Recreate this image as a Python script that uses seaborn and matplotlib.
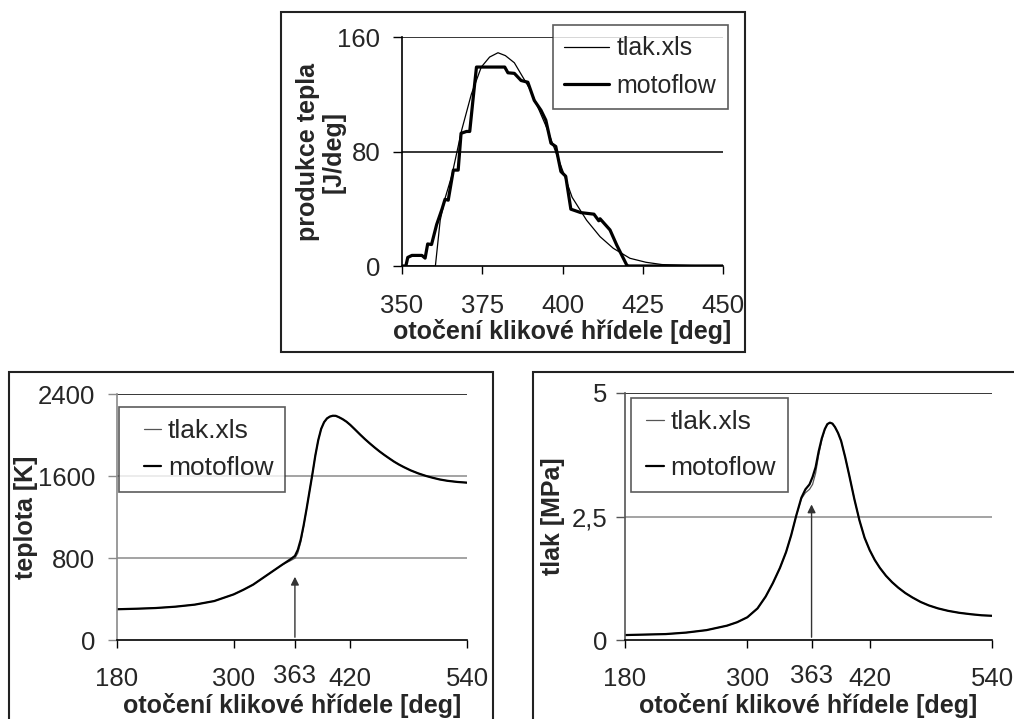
import matplotlib
matplotlib.use("Agg")
import matplotlib.pyplot as plt
import seaborn as sns
from matplotlib.patches import Rectangle
from matplotlib.legend_handler import HandlerLine2D
from matplotlib.lines import Line2D

# ----------------------------------------------------------
# Data
# ----------------------------------------------------------

# heat release [J/deg] vs crank angle
heat_tlak_x = [350, 360.4, 361.9, 363.5, 365.5, 368.6, 371.6, 374.7, 377.3, 379.9, 382.2,
               385, 390, 395, 400, 403, 407.5, 411.7, 415.8, 421, 426, 431, 440, 450]
heat_tlak_y = [0, 0, 32, 48, 63, 95, 120, 139, 146, 149, 147,
               142, 123, 97, 67, 48, 32, 20.5, 12.4, 5.4, 2.6, 1, 0.3, 0]

heat_moto_x = [350, 351.2, 351.8, 353.1, 356.2, 357.2, 358, 359.2, 360.8, 362.5, 363.4, 364.4,
               366, 367.5, 368.4, 370.1, 371.1, 372.2, 373.2, 382, 383, 385, 387.1, 389.2,
               391.2, 393.3, 394.8, 396.4, 397.9, 399.5, 401, 402.6, 405.7, 409.8, 411.3,
               411.7, 414.8, 416.9, 420, 420.5, 450]
heat_moto_y = [0, 0, 6, 7.4, 7.4, 5.5, 15.4, 15, 29, 40, 46.6, 46,
               67, 67, 92.7, 94, 94, 118, 139, 139, 135, 134.6, 129.6, 128.4,
               115.7, 108.8, 101.9, 85.8, 83.5, 66, 62.7, 39.7, 37.3, 36.2, 31.6,
               33, 25.2, 14.6, 0.7, 0, 0]

# temperature [K]
temp_x = [180, 200, 220, 240, 260, 280, 300, 310, 320, 330, 340, 350, 358, 363, 366, 369,
          372, 375, 378, 381, 384, 387, 390, 393, 396, 399, 402, 405, 408, 412, 416, 420,
          425, 430, 435, 440, 445, 450, 455, 460, 465, 470, 475, 482, 490, 498, 505, 512,
          520, 530, 540]
temp_moto = [300, 305, 312, 325, 345, 380, 445, 490, 540, 605, 670, 735, 785, 820, 880, 980,
             1120, 1280, 1450, 1620, 1800, 1950, 2060, 2125, 2162, 2180, 2188, 2187, 2175, 2155, 2130, 2098,
             2052, 2005, 1960, 1918, 1878, 1840, 1805, 1772, 1740, 1712, 1687, 1655, 1625, 1600, 1582, 1566,
             1553, 1542, 1535]
temp_tlak = [300, 305, 312, 325, 345, 380, 445, 490, 540, 605, 670, 735, 772, 798, 850, 955,
             1110, 1280, 1450, 1620, 1800, 1950, 2060, 2125, 2162, 2180, 2188, 2187, 2175, 2155, 2130, 2098,
             2052, 2005, 1960, 1918, 1878, 1840, 1805, 1772, 1740, 1712, 1687, 1655, 1625, 1600, 1582, 1566,
             1553, 1542, 1535]

# pressure [MPa]
press_x = [180, 200, 220, 240, 260, 280, 290, 300, 310, 318, 325, 332, 338, 343, 348, 353, 357, 361,
           364, 367, 370, 373, 376, 378.5, 381, 383.5, 386, 389, 392, 396, 400, 405, 410, 415, 420,
           425, 430, 436, 442, 448, 455, 462, 470, 478, 487, 497, 508, 520, 530, 540]
press_moto = [0.10, 0.11, 0.12, 0.15, 0.20, 0.29, 0.36, 0.46, 0.64, 0.88, 1.15, 1.46, 1.78, 2.12, 2.52, 2.88, 3.05, 3.15,
              3.30, 3.50, 3.82, 4.08, 4.27, 4.37, 4.40, 4.38, 4.31, 4.19, 4.03, 3.70, 3.33, 2.85, 2.42, 2.07, 1.82,
              1.62, 1.46, 1.30, 1.17, 1.06, 0.95, 0.86, 0.77, 0.70, 0.64, 0.59, 0.55, 0.52, 0.50, 0.49]
press_tlak = [0.10, 0.11, 0.12, 0.15, 0.20, 0.29, 0.36, 0.46, 0.64, 0.88, 1.15, 1.46, 1.78, 2.12, 2.52, 2.86, 2.98, 3.05,
              3.15, 3.38, 3.75, 4.05, 4.26, 4.37, 4.40, 4.38, 4.31, 4.19, 4.03, 3.70, 3.33, 2.85, 2.42, 2.07, 1.82,
              1.62, 1.46, 1.30, 1.17, 1.06, 0.95, 0.86, 0.77, 0.70, 0.64, 0.59, 0.55, 0.52, 0.50, 0.49]

bottom_xticks = [180, 300, 363, 420, 540]
temp_yticks = [0, 800, 1600, 2400]
press_yticks = [0, 2.5, 5]
press_yticklabels = ["0", "2,5", "5"]

# ----------------------------------------------------------
# Style
# ----------------------------------------------------------

sns.set_style("white")
plt.rcParams["font.family"] = ["Liberation Sans", "DejaVu Sans"]
plt.rcParams["font.size"] = 18

W, H = 1014, 719
fig = plt.figure(figsize=(W / 100, H / 100), dpi=100)


def px_axes(left, top, right, bottom):
    return fig.add_axes([left / W, 1 - bottom / H, (right - left) / W, (bottom - top) / H])


def frame(left, top, right, bottom):
    fig.add_artist(Rectangle((left / W, 1 - bottom / H), (right - left) / W, (bottom - top) / H,
                             transform=fig.transFigure, fill=False, edgecolor="#222222", lw=1.5))


def style_axes(ax, spine_color, xpad, ypad, size):
    for s in ["top", "right"]:
        ax.spines[s].set_visible(False)
    ax.spines["left"].set_color(spine_color)
    ax.spines["bottom"].set_color("black")
    ax.spines["left"].set_linewidth(1.2)
    ax.spines["bottom"].set_linewidth(1.2)
    ax.tick_params(axis="x", direction="out", length=6, width=1, pad=xpad, labelsize=size,
                   bottom=True, color="black")
    ax.tick_params(axis="y", direction="out", length=6.5, width=1, pad=ypad, labelsize=size,
                   left=True, color=spine_color)


def add_legend(ax, x, y, size, handlelength, xpad, textpad, labelspacing):
    leg = ax.legend(loc="upper left", bbox_to_anchor=(x / W, 1 - y / H), bbox_transform=fig.transFigure,
                    frameon=True, fancybox=False, shadow=False, borderaxespad=0, fontsize=size,
                    handlelength=handlelength, handletextpad=textpad, labelspacing=labelspacing,
                    borderpad=0.45, handler_map={Line2D: HandlerLine2D(xpad=xpad)})
    leg.get_frame().set_edgecolor("#333333")
    leg.get_frame().set_linewidth(1.2)
    leg.set_zorder(10)


# ----------------------------------------------------------
# Top: heat release
# ----------------------------------------------------------

ax1 = px_axes(402, 37, 723, 266)
for v in [80, 160]:
    ax1.axhline(v, color="black", lw=1.1, zorder=0)
sns.lineplot(x=heat_tlak_x, y=heat_tlak_y, ax=ax1, color="black", lw=0.9, label="tlak.xls", sort=False)
sns.lineplot(x=heat_moto_x, y=heat_moto_y, ax=ax1, color="black", lw=2.3, label="motoflow", sort=False)
ax1.set_xlim(350, 450)
ax1.set_ylim(0, 160)
ax1.set_xticks([350, 375, 400, 425, 450])
ax1.set_yticks([0, 80, 160])
style_axes(ax1, "black", 14.5, 9, 18.5)
ax1.set_xlabel("otočení klikové hřídele [deg]", fontweight="bold", fontsize=18)
ax1.set_ylabel("produkce tepla\n[J/deg]", fontweight="bold", fontsize=18, linespacing=1.1)
ax1.xaxis.set_label_coords(0.5, -(331 - 266) / 229)
ax1.xaxis.label.set_va("center")
ax1.yaxis.set_label_coords((321 - 402) / 321, 0.5)
ax1.yaxis.label.set_va("center")
add_legend(ax1, 553, 25, 18, 1.8, 0.0, 0.3, 0.55)
frame(281, 12, 745, 352)

# ----------------------------------------------------------
# Bottom left: temperature
# ----------------------------------------------------------

ax2 = px_axes(117, 394, 467, 640)
for v, c in zip([800, 1600, 2400], ["#8a8a8a", "#8a8a8a", "black"]):
    ax2.axhline(v, color=c, lw=1.1, zorder=0)
sns.lineplot(x=temp_x, y=temp_tlak, ax=ax2, color="#555555", lw=0.9, label="tlak.xls", sort=False)
sns.lineplot(x=temp_x, y=temp_moto, ax=ax2, color="black", lw=1.6, label="motoflow", sort=False)
ax2.annotate("", xy=(363, 644), xytext=(363, 0),
             arrowprops=dict(arrowstyle="-|>", color="#333333", lw=1, mutation_scale=12))
ax2.set_xlim(180, 540)
ax2.set_ylim(0, 2400)
ax2.set_xticks(bottom_xticks)
ax2.set_yticks(temp_yticks)
style_axes(ax2, "#8a8a8a", 13.5, 9, 18.5)
ax2.get_xticklabels()[2].set_y(3 / 246)
ax2.set_xlabel("otočení klikové hřídele [deg]", fontweight="bold", fontsize=18)
ax2.set_ylabel("teplota [K]", fontweight="bold", fontsize=18)
ax2.xaxis.set_label_coords(0.5, -(705 - 640) / 246)
ax2.xaxis.label.set_va("center")
ax2.yaxis.set_label_coords((26 - 117) / 350, 0.5)
ax2.yaxis.label.set_va("center")
add_legend(ax2, 119, 407, 19, 1.15, 0.5, 0.25, 0.5)
frame(9, 372, 493, 730)

# ----------------------------------------------------------
# Bottom right: pressure
# ----------------------------------------------------------

ax3 = px_axes(625, 393, 992, 640)
for v, c in zip([2.5, 5], ["#8a8a8a", "black"]):
    ax3.axhline(v, color=c, lw=1.1, zorder=0)
sns.lineplot(x=press_x, y=press_tlak, ax=ax3, color="#555555", lw=0.9, label="tlak.xls", sort=False)
sns.lineplot(x=press_x, y=press_moto, ax=ax3, color="black", lw=1.6, label="motoflow", sort=False)
ax3.annotate("", xy=(363, 2.8), xytext=(363, 0),
             arrowprops=dict(arrowstyle="-|>", color="#333333", lw=1, mutation_scale=12))
ax3.set_xlim(180, 540)
ax3.set_ylim(0, 5)
ax3.set_xticks(bottom_xticks)
ax3.set_yticks(press_yticks)
ax3.set_yticklabels(press_yticklabels)
style_axes(ax3, "#555555", 13.5, 6, 18.5)
ax3.get_xticklabels()[2].set_y(3 / 247)
ax3.set_xlabel("otočení klikové hřídele [deg]", fontweight="bold", fontsize=18)
ax3.set_ylabel("tlak [MPa]", fontweight="bold", fontsize=18)
ax3.xaxis.set_label_coords(0.5, -(705 - 640) / 247)
ax3.xaxis.label.set_va("center")
ax3.yaxis.set_label_coords((553 - 625) / 367, 0.5)
ax3.yaxis.label.set_va("center")
add_legend(ax3, 631, 398, 19, 0.8, 0.12, 0.25, 0.85)
frame(533, 372, 1030, 730)

plt.savefig("out.png", dpi=100)
plt.close()
